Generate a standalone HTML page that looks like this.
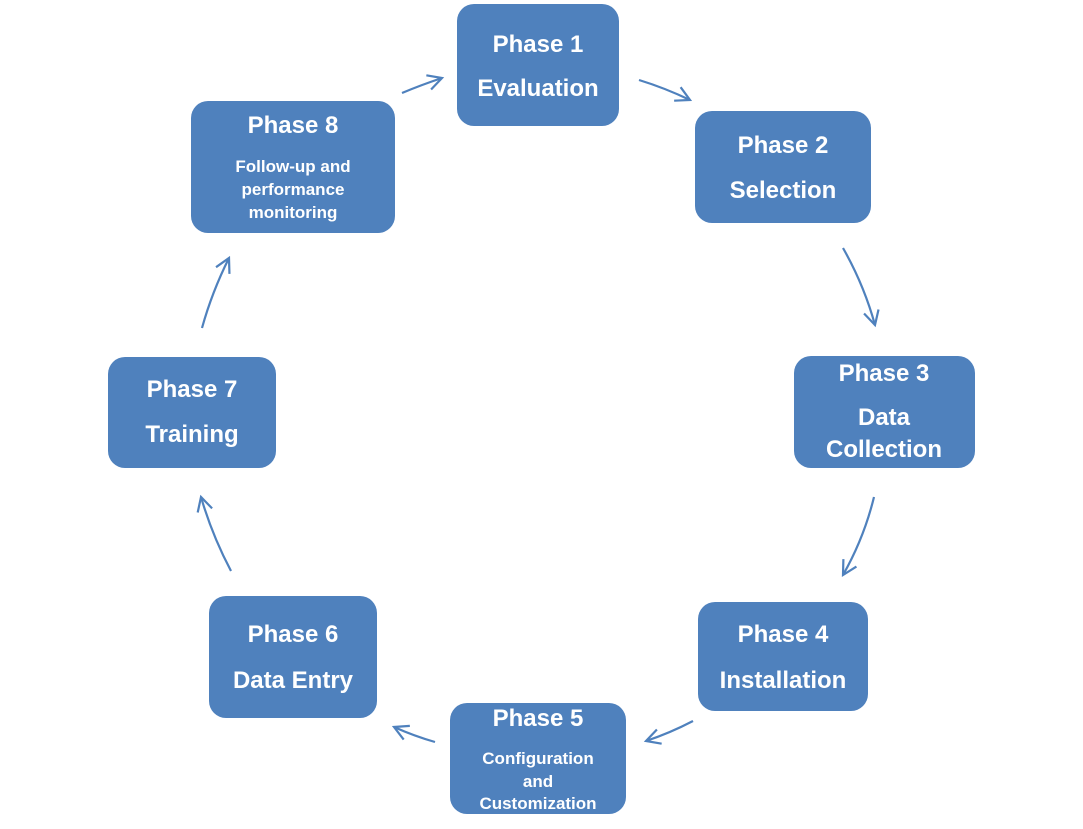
<!DOCTYPE html>
<html>
<head>
<meta charset="utf-8">
<style>
  html,body{margin:0;padding:0;background:#fff;}
  body{width:1083px;height:829px;overflow:hidden;}
  svg{display:block;}
  text{font-family:"Liberation Sans",Arial,sans-serif;font-weight:bold;fill:#fff;text-anchor:middle;}
  .t{font-size:24px;}
  .s{font-size:17px;}
</style>
</head>
<body>
<svg width="1083" height="829" viewBox="0 0 1083 829" xmlns="http://www.w3.org/2000/svg">
  <defs>
    <marker id="ah" markerUnits="userSpaceOnUse" markerWidth="20" markerHeight="20" refX="16" refY="10" orient="auto">
      <path d="M2,2.5 L16,10 L2,17.5" fill="none" stroke="#4F81BD" stroke-width="2.2"/>
    </marker>
  </defs>

  <!-- Boxes -->
  <g fill="#4F81BD">
    <rect x="457" y="4" width="162" height="122" rx="17"/>
    <rect x="695" y="111" width="176" height="112" rx="17"/>
    <rect x="794" y="356" width="181" height="112" rx="17"/>
    <rect x="698" y="602" width="170" height="109" rx="17"/>
    <rect x="450" y="703" width="176" height="111" rx="17"/>
    <rect x="209" y="596" width="168" height="122" rx="17"/>
    <rect x="108" y="357" width="168" height="111" rx="17"/>
    <rect x="191" y="101" width="204" height="132" rx="17"/>
  </g>

  <!-- Arrows -->
  <g fill="none" stroke="#4F81BD" stroke-width="2.2" marker-end="url(#ah)">
    <path d="M402,93 Q421,85 442,78"/>
    <path d="M639,80 Q665,88 690,100"/>
    <path d="M843,248 Q864,285 875,325"/>
    <path d="M874,497 Q864,538 843,575"/>
    <path d="M693,721 Q670,733 646,741"/>
    <path d="M435,742 Q414,736 394,727"/>
    <path d="M231,571 Q212,535 201,497"/>
    <path d="M202,328 Q212,292 229,258"/>
  </g>

  <!-- Labels -->
  <text class="t" x="538" y="52">Phase 1</text>
  <text class="t" x="538" y="96">Evaluation</text>

  <text class="t" x="783" y="153">Phase 2</text>
  <text class="t" x="783" y="198">Selection</text>

  <text class="t" x="884" y="381">Phase 3</text>
  <text class="t" x="884" y="425">Data</text>
  <text class="t" x="884" y="457">Collection</text>

  <text class="t" x="783" y="642">Phase 4</text>
  <text class="t" x="783" y="688">Installation</text>

  <text class="t" x="538" y="726">Phase 5</text>
  <text class="s" x="538" y="764">Configuration</text>
  <text class="s" x="538" y="787">and</text>
  <text class="s" x="538" y="809">Customization</text>

  <text class="t" x="293" y="642">Phase 6</text>
  <text class="t" x="293" y="688">Data Entry</text>

  <text class="t" x="192" y="397">Phase 7</text>
  <text class="t" x="192" y="442">Training</text>

  <text class="t" x="293" y="133">Phase 8</text>
  <text class="s" x="293" y="172">Follow-up and</text>
  <text class="s" x="293" y="195">performance</text>
  <text class="s" x="293" y="218">monitoring</text>
</svg>
</body>
</html>
